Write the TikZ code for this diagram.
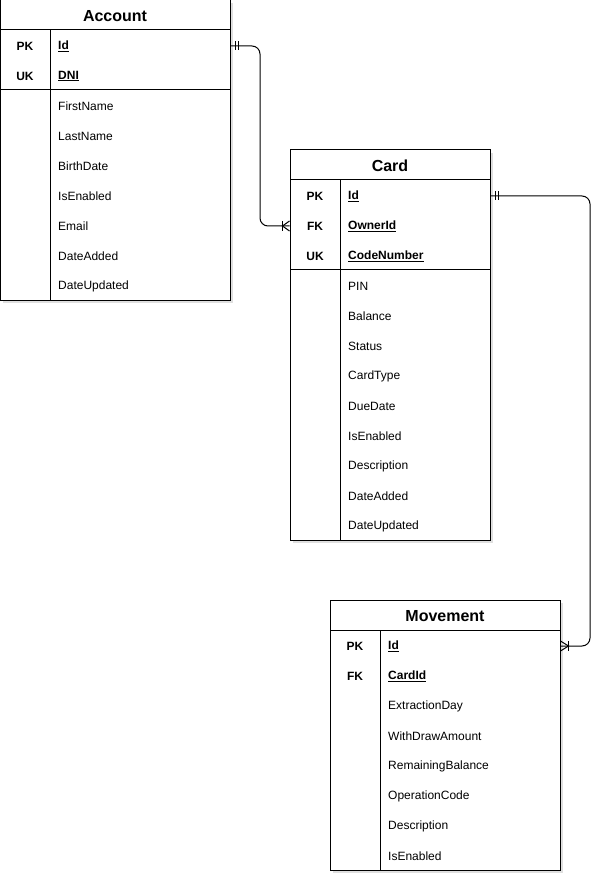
\documentclass[tikz,border=0pt]{standalone}
\usepackage{fontspec}
\setmainfont{Liberation Sans}
\usetikzlibrary{shadows}
\begin{document}
\begin{tikzpicture}[x=1pt,y=-1pt,
  ln/.style={line width=1pt, draw=black},
  tbox/.style={draw=black, line width=1pt, fill=white, inner sep=0pt,
    drop shadow={shadow xshift=3pt, shadow yshift=-3pt, opacity=0.25}},
  ttl/.style={font=\bfseries\fontsize{16}{19}\selectfont, inner sep=0pt, yshift=-1pt},
  kc/.style={font=\bfseries\fontsize{12}{14}\selectfont, inner sep=0pt, yshift=-1pt},
  fname/.style={font=\fontsize{12}{14}\selectfont, anchor=west, inner sep=0pt, yshift=-1pt},
  kname/.style={font=\bfseries\fontsize{12}{14}\selectfont, anchor=west, inner sep=0pt, yshift=-1pt},
  conn/.style={line width=1pt, rounded corners=8pt}
]
\useasboundingbox (0,0) rectangle (612,882);

% ---------- Account ----------
\node[tbox, minimum width=230pt, minimum height=300pt] (acc) at (115,150) {};
\node[ttl] (accT) at (115,15) {Account};
\draw[ln] (0,30) -- (230,30);
\draw[ln] (50,30) -- (50,300);
\draw[ln] (0,90) -- (230,90);
\node[kc] (accPK) at (25,45) {PK};
\node[kname] (accId) at (58,45) {\underline{Id}};
\node[kc] (accUK) at (25,75) {UK};
\node[kname] (accDNI) at (58,75) {\underline{DNI}};
\node[fname] (accF1) at (58,105) {FirstName};
\node[fname] (accF2) at (58,135) {LastName};
\node[fname] (accF3) at (58,165) {BirthDate};
\node[fname] (accF4) at (58,195) {IsEnabled};
\node[fname] (accF5) at (58,225) {Email};
\node[fname] (accF6) at (58,255) {DateAdded};
\node[fname] (accF7) at (58,285) {DateUpdated};

% ---------- Card ----------
\node[tbox, minimum width=200pt, minimum height=390pt] (card) at (390,345) {};
\node[ttl] (cardT) at (390,165) {Card};
\draw[ln] (290,180) -- (490,180);
\draw[ln] (340,180) -- (340,540);
\draw[ln] (290,270) -- (490,270);
\node[kc] (cardPK) at (315,195) {PK};
\node[kname] (cardId) at (348,195) {\underline{Id}};
\node[kc] (cardFK) at (315,225) {FK};
\node[kname] (cardOwner) at (348,225) {\underline{OwnerId}};
\node[kc] (cardUK) at (315,255) {UK};
\node[kname] (cardCode) at (348,255) {\underline{CodeNumber}};
\node[fname] (cardF1) at (348,285) {PIN};
\node[fname] (cardF2) at (348,315) {Balance};
\node[fname] (cardF3) at (348,345) {Status};
\node[fname] (cardF4) at (348,375) {CardType};
\node[fname] (cardF5) at (348,405) {DueDate};
\node[fname] (cardF6) at (348,435) {IsEnabled};
\node[fname] (cardF7) at (348,465) {Description};
\node[fname] (cardF8) at (348,495) {DateAdded};
\node[fname] (cardF9) at (348,525) {DateUpdated};

% ---------- Movement ----------
\node[tbox, minimum width=230pt, minimum height=270pt] (mov) at (445,735) {};
\node[ttl] (movT) at (445,615) {Movement};
\draw[ln] (330,630) -- (560,630);
\draw[ln] (380,630) -- (380,870);
\node[kc] (movPK) at (355,645) {PK};
\node[kname] (movId) at (388,645) {\underline{Id}};
\node[kc] (movFK) at (355,675) {FK};
\node[kname] (movCard) at (388,675) {\underline{CardId}};
\node[fname] (movF1) at (388,705) {ExtractionDay};
\node[fname] (movF2) at (388,735) {WithDrawAmount};
\node[fname] (movF3) at (388,765) {RemainingBalance};
\node[fname] (movF4) at (388,795) {OperationCode};
\node[fname] (movF5) at (388,825) {Description};
\node[fname] (movF6) at (388,855) {IsEnabled};

% ---------- Connectors ----------
\coordinate (j1) at (260,0);
\coordinate (j2) at (590,0);
\coordinate (e1) at (acc.east |- accPK);
\coordinate (e2) at (card.west |- cardFK);
\coordinate (e3) at (card.east |- cardPK);
\coordinate (e4) at (mov.east |- movPK);

\draw[conn] (e1) -- (j1 |- e1) -- (j1 |- e2) -- (e2);
\draw[conn] (e3) -- (j2 |- e3) -- (j2 |- e4) -- (e4);

% mandatory one (Account side)
\draw[ln] (e1) ++(5,-4.5) -- ++(0,9);
\draw[ln] (e1) ++(8,-4.5) -- ++(0,9);
% one-to-many (Card side)
\draw[ln] (e2) ++(-7,-5) -- ++(0,10);
\draw[ln] (e2) ++(0,-5) -- ++(-7,5) -- ++(7,5);
% mandatory one (Card side)
\draw[ln] (e3) ++(5,-4.5) -- ++(0,9);
\draw[ln] (e3) ++(8,-4.5) -- ++(0,9);
% one-to-many (Movement side)
\draw[ln] (e4) ++(8,-5) -- ++(0,10);
\draw[ln] (e4) ++(0,-5) -- ++(8,5) -- ++(-8,5);
\end{tikzpicture}
\end{document}
